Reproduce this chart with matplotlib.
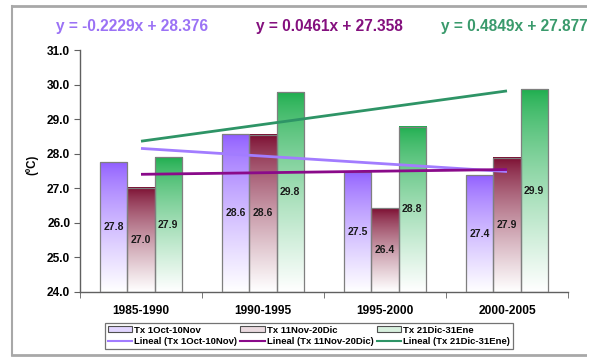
import numpy as np
import matplotlib
matplotlib.use("Agg")
import matplotlib.pyplot as plt
from matplotlib.colors import to_rgb
from matplotlib.patches import Rectangle, Patch
from matplotlib.lines import Line2D

plt.rcParams['font.family'] = ['Liberation Sans', 'DejaVu Sans']
plt.rcParams['font.weight'] = 'bold'

# datos
periods = ["1985-1990", "1990-1995", "1995-2000", "2000-2005"]
series_names = ["Tx 1Oct-10Nov", "Tx 11Nov-20Dic", "Tx 21Dic-31Ene"]
tx_oct_nov = [27.76, 28.57, 27.48, 27.38]
tx_nov_dic = [27.02, 28.55, 26.42, 27.88]
tx_dic_ene = [27.90, 29.78, 28.78, 29.86]
labels_oct_nov = ["27.8", "28.6", "27.5", "27.4"]
labels_nov_dic = ["27.0", "28.6", "26.4", "27.9"]
labels_dic_ene = ["27.9", "29.8", "28.8", "29.9"]
trend_slopes = [-0.2229, 0.0461, 0.4849]
trend_intercepts = [28.376, 27.358, 27.877]

bar_colors = ["#8F5CFF", "#7A0A2E", "#1EAE4E"]
trend_colors = ["#A27CFF", "#8A0A8A", "#2E9466"]
eq_colors = ["#9B72F5", "#84107E", "#3A9A6C"]
ymin, ymax = 24.0, 31.0

fig = plt.figure(figsize=(5.96, 3.6), dpi=100)
ax = fig.add_axes([80 / 596, 1 - 292 / 360, 488 / 596, 242 / 360])

x = np.arange(1, len(periods) + 1)
width = 0.223
values = [tx_oct_nov, tx_nov_dic, tx_dic_ene]
texts = [labels_oct_nov, labels_nov_dic, labels_dic_ene]

for i, (vals, labs, col) in enumerate(zip(values, texts, bar_colors)):
    xs = x + (i - 1) * width
    top = np.array(to_rgb(col))
    t = np.linspace(0, 1, 100)[:, None] ** 0.75
    grad = top * (1 - t) + np.ones(3) * t
    grad = grad[:, None, :]
    for xi, v, lab in zip(xs, vals, labs):
        ax.imshow(grad, extent=(xi - width / 2, xi + width / 2, ymin, v),
                  origin='upper', aspect='auto', zorder=2, interpolation='bilinear')
        ax.add_patch(Rectangle((xi - width / 2, ymin), width, v - ymin,
                               fill=False, edgecolor='#7F7F7F', lw=0.9, zorder=3))
        ax.text(xi, (ymin + v) / 2, lab, ha='center', va='center',
                fontsize=7.5, fontweight='bold', color='#1A1A1A', zorder=5)

# lineas de tendencia (lineal)
xt = np.array([x[0], x[-1]])
for m, b, c in zip(trend_slopes, trend_intercepts, trend_colors):
    ax.plot(xt, m * xt + b, color=c, lw=2, zorder=4, solid_capstyle='butt')

ax.set_xlim(0.5, len(periods) + 0.5)
ax.set_ylim(ymin, ymax)
ax.set_yticks(np.arange(24, 31.5, 1.0))
ax.set_yticklabels([f"{v:.1f}" for v in np.arange(24, 31.5, 1.0)])
ax.set_xticks(x)
ax.set_xticklabels(periods)
ax.set_xticks(np.arange(0.5, len(periods) + 1, 1.0), minor=True)
ax.tick_params(axis='x', which='major', length=0, pad=9, labelsize=8.6)
ax.tick_params(axis='x', which='minor', length=4, color='#606060', direction='out')
ax.tick_params(axis='y', length=4, color='#606060', labelsize=8.6, pad=3)
for lab in ax.get_xticklabels() + ax.get_yticklabels():
    lab.set_fontweight('bold')
for s in ['top', 'right']:
    ax.spines[s].set_visible(False)
for s in ['left', 'bottom']:
    ax.spines[s].set_color('#606060')
    ax.spines[s].set_linewidth(1.0)

fig.text(32 / 596, 1 - 165 / 360, "(ºC)", rotation=90, ha='center', va='center',
         fontsize=8.3, fontweight='bold')

# ecuaciones
eq_x = [132, 329, 441]
eq_ha = ['center', 'center', 'left']
for m, b, c, ex, ha in zip(trend_slopes, trend_intercepts, eq_colors, eq_x, eq_ha):
    fig.text(ex / 596, 1 - 27 / 360, f"y = {m:.4f}x + {b:.3f}", color=c,
             fontsize=11.2, fontweight='bold', ha=ha, va='center')

# leyenda
handles = []
light = ["#E2D6FF", "#EADADF", "#D8F0DE"]
for name, col, lc, tc in zip(series_names, bar_colors, light, trend_colors):
    handles.append(Patch(facecolor=lc, edgecolor='#505050', lw=0.8, label=name))
    handles.append(Line2D([], [], color=tc, lw=1.5, label=f"Lineal ({name})"))
leg = fig.legend(handles=handles, loc='lower left', ncol=3, mode='expand',
                 bbox_to_anchor=(105 / 596, 1 - 349 / 360, 408 / 596, 30 / 360),
                 bbox_transform=fig.transFigure, fontsize=6.8, frameon=True,
                 fancybox=False, edgecolor='#505050', borderaxespad=0,
                 handlelength=2.6, handleheight=0.6, handletextpad=0.2,
                 labelspacing=0.25, borderpad=0.3, columnspacing=0.5)
leg.get_frame().set_linewidth(0.9)
for t in leg.get_texts():
    t.set_fontweight('bold')

# marco exterior
fig.add_artist(Line2D([12 / 596, 587 / 596], [1 - 6 / 360, 1 - 6 / 360],
                      color='#A8A8A8', lw=2, transform=fig.transFigure))
fig.add_artist(Line2D([12 / 596, 12 / 596], [1 - 6 / 360, 1 - 355 / 360],
                      color='#A8A8A8', lw=1.5, transform=fig.transFigure))
fig.add_artist(Line2D([12 / 596, 587 / 596], [1 - 355 / 360, 1 - 355 / 360],
                      color='#A8A8A8', lw=2, transform=fig.transFigure))
fig.add_artist(Rectangle((587 / 596, 0), 9 / 596, 1, facecolor='white',
                         edgecolor='none', transform=fig.transFigure, zorder=10))

fig.savefig("out.png", dpi=100)
